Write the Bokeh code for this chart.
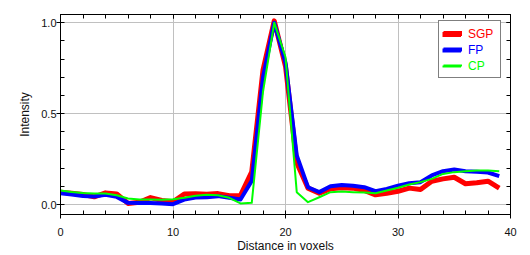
from bokeh.plotting import figure
from bokeh.models import (Range1d, LinearAxis, FixedTicker, Legend, LegendItem,
                          PrintfTickFormatter)
from bokeh.core.properties import value
from bokeh.embed import file_html
from bokeh.resources import INLINE

# ---------------- data ----------------
distance = list(range(40))

sgp = [0.068, 0.062, 0.055, 0.042, 0.064, 0.058, 0.006, 0.012, 0.038, 0.022,
       0.015, 0.058, 0.059, 0.056, 0.060, 0.048, 0.050, 0.180, 0.740, 1.010,
       0.760, 0.230, 0.090, 0.062, 0.086, 0.092, 0.090, 0.077, 0.053, 0.062,
       0.073, 0.090, 0.082, 0.128, 0.141, 0.150, 0.114, 0.120, 0.128, 0.090]

fp = [0.062, 0.055, 0.047, 0.044, 0.053, 0.042, 0.009, 0.008, 0.008, 0.005,
      0.002, 0.027, 0.038, 0.040, 0.046, 0.037, 0.027, 0.130, 0.700, 1.000,
      0.780, 0.270, 0.095, 0.068, 0.100, 0.107, 0.103, 0.095, 0.073, 0.086,
      0.104, 0.117, 0.123, 0.160, 0.183, 0.192, 0.183, 0.180, 0.176, 0.156]

cp = [0.077, 0.069, 0.063, 0.060, 0.061, 0.051, 0.033, 0.027, 0.028, 0.026,
      0.029, 0.037, 0.048, 0.053, 0.051, 0.037, 0.006, 0.009, 0.620, 1.000,
      0.810, 0.068, 0.013, 0.040, 0.068, 0.071, 0.068, 0.066, 0.062, 0.077,
      0.092, 0.110, 0.123, 0.141, 0.168, 0.178, 0.183, 0.187, 0.187, 0.183]

series_names = ["SGP", "FP", "CP"]
series_colors = ["#ff0000", "#0000ff", "#00ff00"]
series_widths = [5, 4, 2]

x_ticks = [0, 10, 20, 30, 40]
x_minor = list(range(0, 41, 2))
y_ticks = [0.0, 0.5, 1.0]
y_minor = [0.0, 0.1, 0.2, 0.3, 0.4, 0.5, 0.6, 0.7, 0.8, 0.9, 1.0]

FONT = "Liberation Sans"

# ---------------- figure ----------------
p = figure(width=530, height=255, output_backend="svg", toolbar_location=None,
           x_range=Range1d(0, 40), y_range=Range1d(-0.055, 1.045),
           min_border_left=60, min_border_right=20, min_border_top=14,
           min_border_bottom=41)
p.background_fill_color = "white"
p.border_fill_color = "white"
p.outline_line_color = "black"
p.outline_line_width = 1

renderers = []
for ys, c, w in zip([sgp, fp, cp], series_colors, series_widths):
    r = p.line(distance, ys, line_color=c, line_width=w, line_join="round")
    renderers.append(r)

# grids
for g in (p.xgrid, p.ygrid):
    g.grid_line_color = "#c0c0c0"
    g.grid_line_width = 1

# bottom axis
xa = p.xaxis[0]
xa.ticker = FixedTicker(ticks=x_ticks, minor_ticks=x_minor)
xa.axis_label = "Distance in voxels"
# left axis
ya = p.yaxis[0]
ya.ticker = FixedTicker(ticks=y_ticks, minor_ticks=y_minor)
ya.formatter = PrintfTickFormatter(format="%.1f")
ya.axis_label = "Intensity"

for ax in (xa, ya):
    ax.axis_line_color = "black"
    ax.major_tick_line_color = "black"
    ax.minor_tick_line_color = "black"
    ax.major_tick_out = 4
    ax.major_tick_in = 0
    ax.minor_tick_in = 4
    ax.minor_tick_out = 0
    ax.major_label_text_font = FONT
    ax.major_label_text_font_size = "11px"
    ax.major_label_text_color = "#111111"
    ax.axis_label_text_font = FONT
    ax.axis_label_text_font_size = "12px"
    ax.axis_label_text_font_style = "normal"
    ax.axis_label_text_color = "#111111"

xa.major_label_standoff = 9
xa.axis_label_standoff = 0
ya.major_label_standoff = 0
ya.axis_label_standoff = 6

# top and right axes: inward ticks, no labels
top = LinearAxis(ticker=FixedTicker(ticks=x_ticks, minor_ticks=x_minor),
                 major_label_overrides={t: "" for t in x_ticks})
right = LinearAxis(ticker=FixedTicker(ticks=y_ticks, minor_ticks=y_minor),
                   major_label_overrides={t: "" for t in y_ticks})
for ax in (top, right):
    ax.axis_line_color = "black"
    ax.major_tick_line_color = "black"
    ax.minor_tick_line_color = "black"
    ax.major_tick_in = 4
    ax.major_tick_out = 0
    ax.minor_tick_in = 4
    ax.minor_tick_out = 0
    ax.major_label_text_font_size = "0px"
    ax.major_label_standoff = 0
p.add_layout(top, "above")
p.add_layout(right, "right")

# ---------------- legend ----------------
LEG_X, LEG_Y = 378, 136      # bottom-left of the legend box, frame pixels
ROW_H, PAD = 16, 4
common = dict(padding=PAD, spacing=0, glyph_width=19, glyph_height=ROW_H,
              label_height=ROW_H, label_standoff=7, margin=0,
              label_text_font=FONT, label_text_font_size="12px")

box = Legend(items=[LegendItem(label=value(""), renderers=[r]) for r in renderers],
             location=(LEG_X, LEG_Y), label_width=27,
             border_line_color="black", border_line_width=1,
             background_fill_color="white", background_fill_alpha=1.0, **common)
p.add_layout(box)

n = len(series_names)
for k, (name, col, r) in enumerate(zip(series_names, series_colors, renderers)):
    lg = Legend(items=[LegendItem(label=value(name), renderers=[r])],
                location=(LEG_X, LEG_Y + (n - 1 - k) * ROW_H),
                border_line_alpha=0, background_fill_alpha=0,
                label_text_color=col, **common)
    p.add_layout(lg)

open("out.html", "w").write(file_html(p, INLINE))
